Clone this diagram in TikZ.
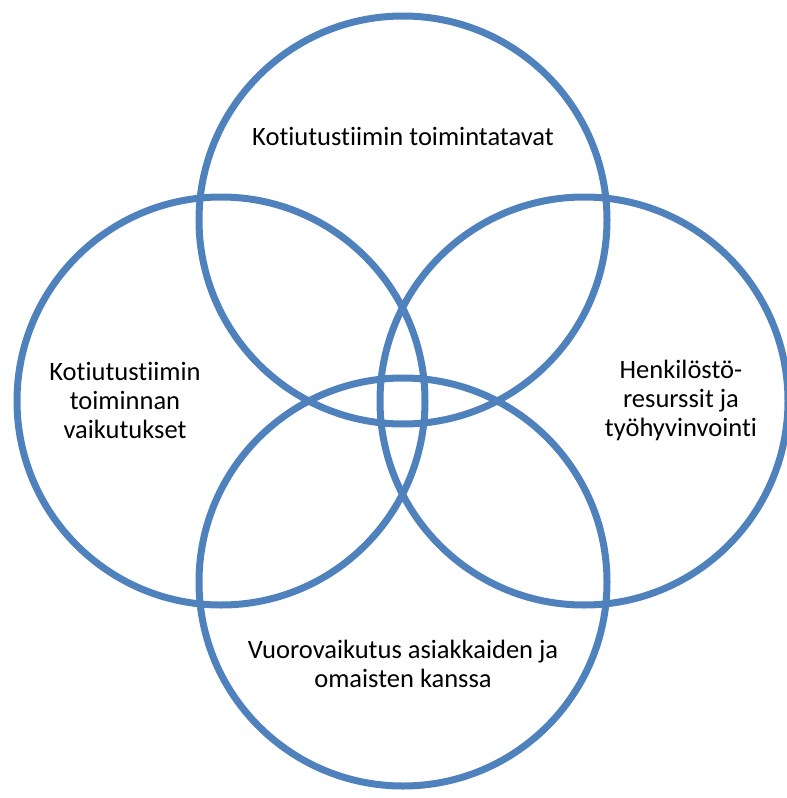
\documentclass[tikz,border=0pt]{standalone}
\usepackage{fontspec}
\setmainfont[Ligatures=NoCommon]{Carlito}
\usepackage{xcolor}
\usepackage{tikz}
\usetikzlibrary{positioning}
\definecolor{ringblue}{HTML}{4F81BD}
\tikzset{
  ring/.style={draw=ringblue, circle, line width=7pt, minimum size=408pt, inner sep=0pt},
  lab/.style={align=center, font=\fontsize{26.5}{29}\selectfont, inner sep=0pt},
}

\begin{document}
\begin{tikzpicture}[x=1pt, y=-1pt]
\useasboundingbox (0,0) rectangle (787,798);
\node[ring] (top) at (403,220) {};
\node[ring] (left) at (221,401) {};
\node[ring] (right) at (584,401) {};
\node[ring] (bottom) at (403,582) {};
\node[lab] (toptxt) at (403,136) {Kotiutustiimin toimintatavat};
\node[lab] (lefttxt) at (125,400) {Kotiutustiimin\\toiminnan\\vaikutukset};
\node[lab] (righttxt) at (681,400) {Henkilöstö-\\resurssit ja\\työhyvinvointi};
\node[lab] (bottomtxt) at (403,664) {Vuorovaikutus asiakkaiden ja\\omaisten kanssa};
\end{tikzpicture}
\end{document}
